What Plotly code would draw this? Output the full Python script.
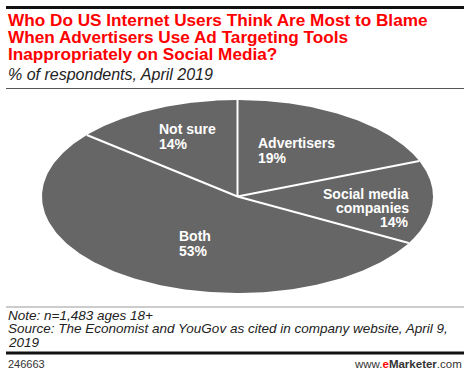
import numpy as np
import plotly.graph_objects as go

# ---- data ----
categories = ["Advertisers", "Social media companies", "Both", "Not sure"]
values = [19, 14, 53, 14]
label_lines = [["Advertisers", "19%"], ["Social media", "companies", "14%"], ["Both", "53%"], ["Not sure", "14%"]]

title_lines = [
    "Who Do US Internet Users Think Are Most to Blame",
    "When Advertisers Use Ad Targeting Tools",
    "Inappropriately on Social Media?",
]
subtitle = "% of respondents, April 2019"
note_lines = [
    "Note: n=1,483 ages 18+",
    "Source: The Economist and YouGov as cited in company website, April 9,",
    "2019",
]
chart_id = "246663"

W, H = 470, 376
GRAY = "#666666"


def px(x):
    return x / W


def py(y):
    return 1 - y / H


fig = go.Figure()

# ---- pie drawn as an ellipse (stretched circle), clockwise from 12 o'clock ----
total = float(sum(values))
cum = np.concatenate([[0.0], np.cumsum(values)]) / total
for i, cat in enumerate(categories):
    th = np.linspace(cum[i], cum[i + 1], 200) * 2 * np.pi
    xs = np.concatenate([[0.0], np.sin(th), [0.0]])
    ys = np.concatenate([[0.0], np.cos(th), [0.0]])
    fig.add_trace(go.Scatter(x=xs, y=ys, mode="lines", fill="toself",
                             fillcolor=GRAY, line=dict(width=0, color=GRAY),
                             name=cat, hoverinfo="name", showlegend=False))

# white separators
sx, sy = [], []
for c in cum[:-1]:
    a = c * 2 * np.pi
    sx += [0.0, np.sin(a), None]
    sy += [0.0, np.cos(a), None]
fig.add_trace(go.Scatter(x=sx, y=sy, mode="lines", line=dict(color="white", width=2),
                         hoverinfo="skip", showlegend=False))

fig.update_xaxes(domain=[px(42), px(433)], range=[-1.0, 1.0], visible=False, fixedrange=True)
fig.update_yaxes(domain=[py(293), py(100)], range=[-1.0, 1.0], visible=False, fixedrange=True)

ann = []
FONT = "Liberation Sans, Arial, sans-serif"

# title
for i, (t, base) in enumerate(zip(title_lines, [26, 43, 60])):
    ann.append(dict(text=t, x=px(6), y=py(base - 6), xanchor="left", yanchor="middle",
                    font=dict(family=FONT, size=17.2, color="#ff0000", weight="bold")))
ann.append(dict(text="<i>" + subtitle + "</i>", x=px(6), y=py(80 - 5.5), xanchor="left", yanchor="middle",
                font=dict(family=FONT, size=16, color="#222222")))

# slice labels
label_pos = [
    (256, "left", [148, 163]),
    (411, "right", [199, 213, 227]),
    (177, "left", [241, 256]),
    (157, "left", [134, 149]),
]
for lines, (lx, anchor, bases) in zip(label_lines, label_pos):
    for t, b in zip(lines, bases):
        ann.append(dict(text=t, x=px(lx), y=py(b - 5), xanchor=anchor, yanchor="middle",
                        font=dict(family=FONT, size=14, color="white", weight="bold")))

# notes
for t, b in zip(note_lines, [320, 333.5, 347]):
    ann.append(dict(text="<i>" + t + "</i>", x=px(6), y=py(b - 4.7), xanchor="left", yanchor="middle",
                    font=dict(family=FONT, size=13.5, color="#222222")))

ann.append(dict(text=chart_id, x=px(6), y=py(368 - 4), xanchor="left", yanchor="middle",
                font=dict(family=FONT, size=11, color="#333333")))
ann.append(dict(text="www.<b><span style='color:#ff0000'>e</span>Marketer</b>.com",
                x=px(464), y=py(368 - 4), xanchor="right", yanchor="middle",
                font=dict(family=FONT, size=11.5, color="#333333")))

for a in ann:
    a.update(xref="paper", yref="paper", showarrow=False)

shapes = [
    dict(type="line", x0=px(6), x1=px(464), y0=py(7.5), y1=py(7.5), line=dict(color="#111111", width=3)),
    dict(type="line", x0=px(6), x1=px(464), y0=py(88.5), y1=py(88.5), line=dict(color="#555555", width=1)),
    dict(type="line", x0=px(6), x1=px(464), y0=py(307), y1=py(307), line=dict(color="#999999", width=1)),
    dict(type="line", x0=px(6), x1=px(464), y0=py(353), y1=py(353), line=dict(color="#111111", width=3)),
]
for s in shapes:
    s.update(xref="paper", yref="paper")

fig.update_layout(width=W, height=H, margin=dict(l=0, r=0, t=0, b=0),
                  paper_bgcolor="white", plot_bgcolor="white",
                  annotations=ann, shapes=shapes, showlegend=False)

fig.write_html("out.html", config={"displayModeBar": False},
               post_script="document.body.style.margin='0';document.body.style.overflow='hidden';")
